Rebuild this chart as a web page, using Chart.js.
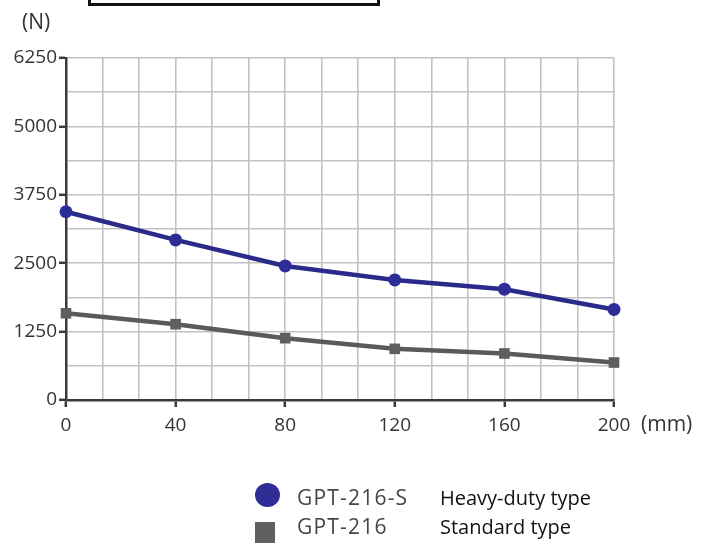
<!DOCTYPE html>
<html>
<head>
<meta charset="utf-8">
<script src="https://cdn.jsdelivr.net/npm/chart.js@4/dist/chart.umd.min.js"></script>
<style>
  html, body { margin: 0; padding: 0; background: #ffffff; }
  #wrap { position: relative; width: 701px; height: 552px; overflow: hidden; font-family: "Open Sans", sans-serif; }
  #c { position: absolute; left: 0; top: 0; }
  .t { position: absolute; white-space: nowrap; line-height: 1; }
  #box { position: absolute; left: 88px; top: -20px; width: 286px; height: 20px; border: 3px solid #111; }
</style>
</head>
<body>
<div id="wrap">
  <canvas id="c" width="701" height="552"></canvas>
  <div id="box"></div>
  <div class="t" style="left:22px; top:11px; font-size:21px; color:#333;">(N)</div>
  <div class="t" style="left:641px; top:413px; font-size:21px; color:#333;">(mm)</div>
  <div style="position:absolute; left:255px; top:483px; width:25px; height:24px; border-radius:50%; background:#2e2e96;"></div>
  <div style="position:absolute; left:255px; top:522px; width:20px; height:21px; background:#606060;"></div>
  <div class="t" style="left:297px; top:487px; font-size:21px; color:#454545; letter-spacing:1.2px;">GPT-216-S</div>
  <div class="t" style="left:297px; top:516px; font-size:21px; color:#454545; letter-spacing:1.2px;">GPT-216</div>
  <div class="t" style="left:440px; top:488px; font-size:20px; color:#111;">Heavy-duty type</div>
  <div class="t" style="left:440px; top:517px; font-size:20px; color:#111;">Standard type</div>
</div>
<script>
// Data
const strokes = [0, 40, 80, 120, 160, 200];              // stroke (mm)
const heavyDuty = [3440, 2925, 2450, 2195, 2025, 1655];   // GPT-216-S (N)
const standard = [1585, 1385, 1130, 935, 850, 685];       // GPT-216 (N)
const xTickLabels = [0, 40, 80, 120, 160, 200];
const yTickLabels = [0, 1250, 2500, 3750, 5000, 6250];
const xGridDivisions = 15;   // vertical grid lines across the x range
const yGridStep = 625;       // horizontal grid spacing

const xMin = 0, xMax = 200, yMin = 0, yMax = 6250;

const isXLabel = v => xTickLabels.some(t => Math.abs(t - v) < 1e-6);
const isYLabel = v => yTickLabels.some(t => Math.abs(t - v) < 1e-6);

const tickFont = { family: "Open Sans", size: 19 };

new Chart(document.getElementById('c'), {
  type: 'line',
  data: {
    datasets: [
      {
        label: 'GPT-216-S',
        data: strokes.map((x, i) => ({ x, y: heavyDuty[i] })),
        borderColor: '#2a2a8a',
        backgroundColor: '#2d2d98',
        borderWidth: 4.5,
        pointStyle: 'circle',
        pointRadius: 6.5,
        pointBorderWidth: 0,
        tension: 0,
        clip: false
      },
      {
        label: 'GPT-216',
        data: strokes.map((x, i) => ({ x, y: standard[i] })),
        borderColor: '#5a5a5a',
        backgroundColor: '#5e5e5e',
        borderWidth: 4.5,
        pointStyle: 'rect',
        pointRadius: 7.5,
        pointBorderWidth: 0,
        tension: 0,
        clip: false
      }
    ]
  },
  options: {
    responsive: false,
    animation: false,
    devicePixelRatio: 1,
    layout: { padding: { left: 0, top: 58, right: 87, bottom: 112 } },
    plugins: { legend: { display: false }, tooltip: { enabled: false } },
    scales: {
      x: {
        type: 'linear',
        min: xMin, max: xMax,
        afterFit: s => { s.height = 40; },
        afterBuildTicks: s => {
          const arr = [];
          for (let i = 0; i <= xGridDivisions; i++) arr.push({ value: xMin + (xMax - xMin) * i / xGridDivisions });
          s.ticks = arr;
        },
        ticks: {
          autoSkip: false,
          maxRotation: 0,
          padding: 7,
          color: '#333',
          font: tickFont,
          callback: v => isXLabel(v) ? String(Math.round(v)) : ''
        },
        grid: {
          color: '#c2c2c2',
          lineWidth: 1.6,
          tickLength: 7,
          tickWidth: 2.5,
          tickColor: ctx => (ctx.tick && isXLabel(ctx.tick.value)) ? '#3a3a3a' : 'rgba(0,0,0,0)'
        },
        border: { display: true, color: '#3a3a3a', width: 2.5 }
      },
      y: {
        min: yMin, max: yMax,
        afterFit: s => { s.width = 66; },
        afterBuildTicks: s => {
          const arr = [];
          for (let v = yMin; v <= yMax + 1e-6; v += yGridStep) arr.push({ value: v });
          s.ticks = arr;
        },
        ticks: {
          autoSkip: false,
          padding: 2,
          color: '#333',
          font: tickFont,
          callback: v => isYLabel(v) ? String(Math.round(v)) : ''
        },
        grid: {
          color: '#c2c2c2',
          lineWidth: 1.6,
          tickLength: 7,
          tickWidth: 2.5,
          tickColor: ctx => (ctx.tick && isYLabel(ctx.tick.value)) ? '#3a3a3a' : 'rgba(0,0,0,0)'
        },
        border: { display: true, color: '#3a3a3a', width: 2.5 }
      }
    }
  }
});
</script>
</body>
</html>
